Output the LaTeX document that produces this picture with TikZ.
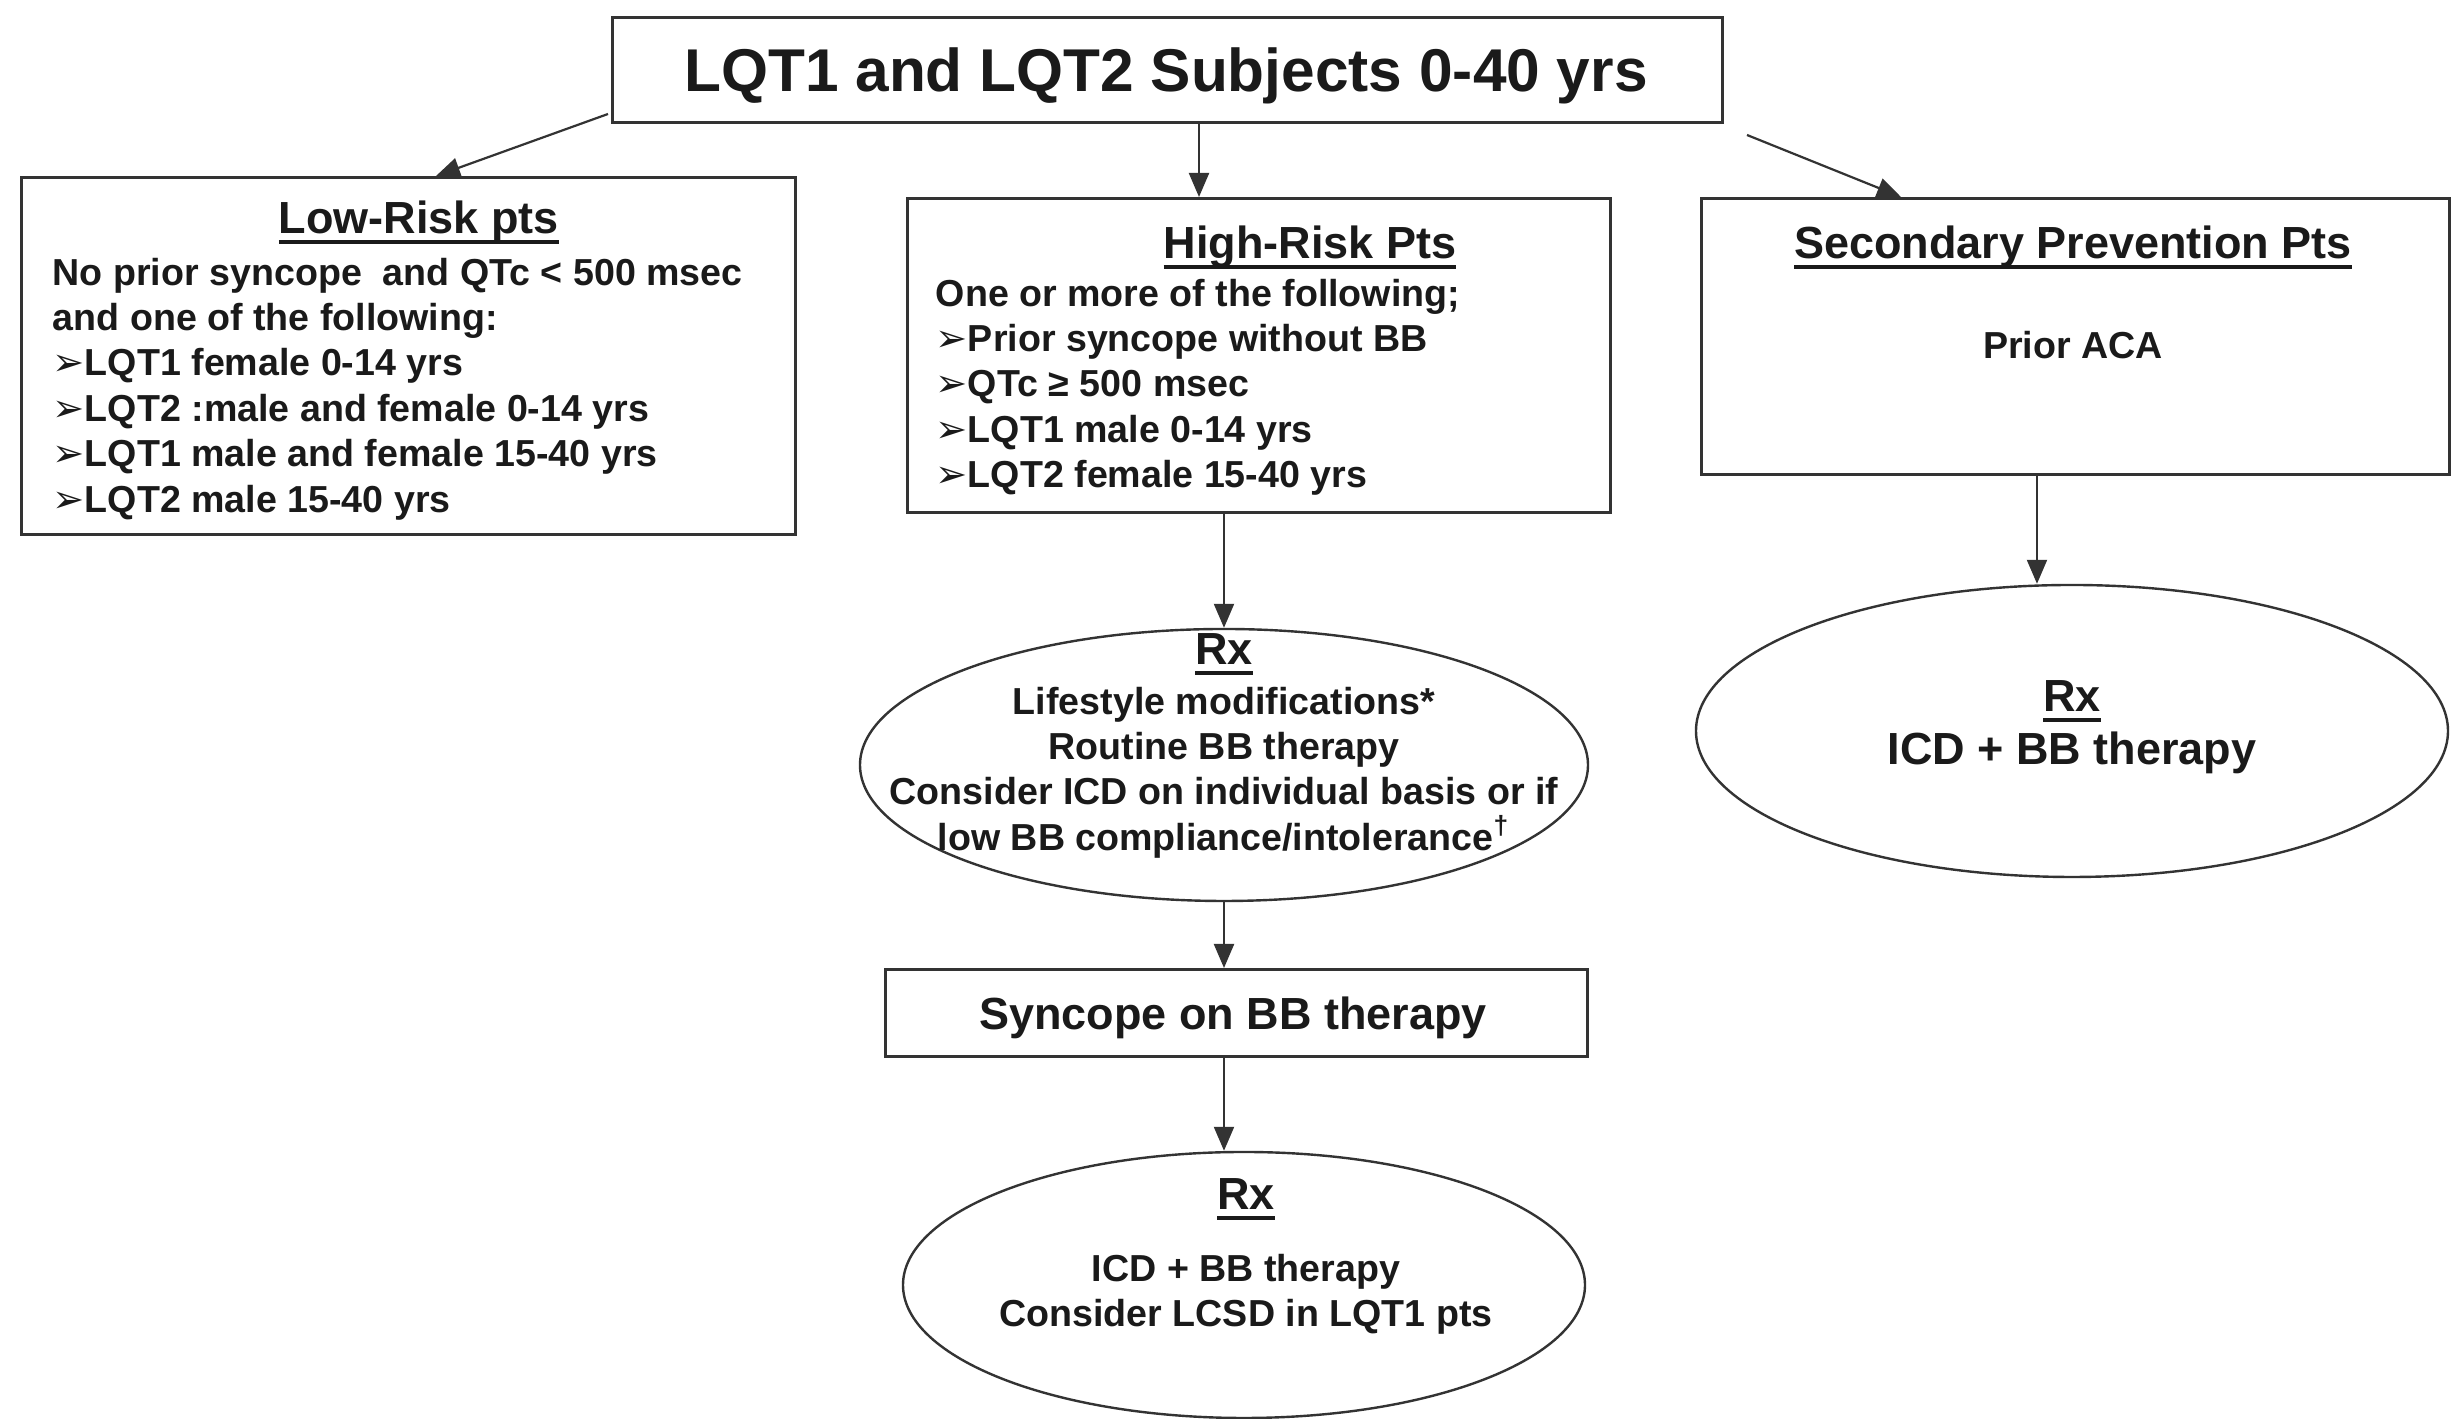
\documentclass[tikz,border=0pt]{standalone}
\usepackage{fontspec}
\setmainfont{Liberation Sans}
\newfontfamily\dvfont{DejaVu Sans}
\usetikzlibrary{shapes.geometric,arrows.meta,calc}
\definecolor{lc}{HTML}{333333}
\definecolor{tc}{HTML}{1A1A1A}
\newcommand\bul{{\dvfont\bfseries\fontsize{9.6}{9}\selectfont ➢}}
\newcommand\hdul[1]{{\setbox0\hbox{#1}\rlap{\rule[-2.4pt]{\wd0}{0.8pt}}\box0}}
\tikzset{
  bx/.style={draw=lc, line width=0.75pt, rectangle, inner sep=0pt, anchor=north west},
  ell/.style={draw=lc, line width=0.6pt, ellipse, inner sep=0pt},
  arr/.style={draw=lc, line width=0.55pt, -{Triangle[length=6pt,width=5pt]}},
  sm/.style={text=tc, font=\bfseries\fontsize{9.4}{11.35}\selectfont, inner sep=0pt},
  lg/.style={text=tc, font=\bfseries\fontsize{11.25}{13.5}\selectfont, inner sep=0pt},
  ttl/.style={text=tc, font=\bfseries\fontsize{15.1}{18}\selectfont, inner sep=0pt},
}
\begin{document}
\begin{tikzpicture}[x=0.25pt,y=-0.25pt]
\useasboundingbox[fill=white] (0,0) rectangle (2457,1419);

% boxes
\node[bx, minimum width=277.5pt, minimum height=26.25pt] (title) at (611,16) {};
\node[bx, minimum width=193.5pt, minimum height=89.25pt] (low) at (20,176) {};
\node[bx, minimum width=175.75pt, minimum height=78.5pt] (high) at (906,197) {};
\node[bx, minimum width=187pt, minimum height=69pt] (sec) at (1700,197) {};
\node[bx, minimum width=175.5pt, minimum height=21.75pt] (sync) at (884,968) {};
\node[ell, minimum width=182pt, minimum height=68pt] (rx1) at (1224,765) {};
\node[ell, minimum width=170.5pt, minimum height=66.5pt] (rx2) at (1244,1285) {};
\node[ell, minimum width=188pt, minimum height=73pt] (rx3) at (2072,731) {};

% texts
\node[ttl, anchor=base] (titletxt) at (1166,92) {LQT1 and LQT2 Subjects 0-40 yrs};

\node[lg, anchor=base] (lowhd) at (419,234) {\hdul{Low-Risk pts}};
\node[sm, anchor=north west, align=left] (lowtxt) at (52,257) {No prior syncope\ \ and QTc < 500 msec\\and one of the following:\\\bul LQT1 female 0-14 yrs\\\bul LQT2 :male and female 0-14 yrs\\\bul LQT1 male and female 15-40 yrs\\\bul LQT2 male 15-40 yrs};

\node[lg, anchor=base] (highhd) at (1310,259) {\hdul{High-Risk Pts}};
\node[sm, anchor=north west, align=left] (hightxt) at (935,278) {One or more of the following;\\\bul Prior syncope without BB\\\bul QTc ≥ 500 msec\\\bul LQT1 male 0-14 yrs\\\bul LQT2 female 15-40 yrs};

\node[lg, anchor=base] (sechd) at (2073,259) {\hdul{Secondary Prevention Pts}};
\node[sm, anchor=base] (sectxt) at (2073,359) {Prior ACA};

\node[lg, anchor=base] (rx1hd) at (1224,665) {\hdul{Rx}};
\node[sm, anchor=north, align=center] (rx1txt) at (1224,686) {Lifestyle modifications*\\Routine BB therapy\\Consider ICD on individual basis or if\\low BB compliance/intolerance\textsuperscript{†}};

\node[lg, anchor=base] (synctxt) at (1233,1030) {Syncope on BB therapy};

\node[lg, anchor=base] (rx2hd) at (1246,1210) {\hdul{Rx}};
\node[sm, anchor=north, align=center] (rx2txt) at (1246,1253) {ICD + BB therapy\\Consider LCSD in LQT1 pts};

\node[lg, anchor=base] (rx3hd) at (2072,712) {\hdul{Rx}};
\node[lg, anchor=base] (rx3txt) at (2072,765) {ICD + BB therapy};

% connectors
\coordinate (a1s) at ($(title.south west)+(-3,-10)$);
\coordinate (a1e) at ($(low.north west)+(416,0)$);
\draw[arr] (a1s) -- (a1e);
\coordinate (a2s) at ($(title.south west)+(588,0)$);
\draw[arr] (a2s) -- (a2s |- high.north);
\coordinate (a3s) at ($(title.south east)+(23,11)$);
\coordinate (a3e) at ($(sec.north west)+(201,0)$);
\draw[arr] (a3s) -- (a3e);
\draw[arr] (high.south -| rx1.north) -- (rx1.north);
\draw[arr] (rx1.south) -- (rx1.south |- sync.north);
\coordinate (a6s) at (rx1.south |- sync.south);
\draw[arr] (a6s) -- (a6s |- rx2.north);
\coordinate (a7s) at ($(sec.south west)+(337,0)$);
\draw[arr] (a7s) -- (a7s |- rx3.north);
\end{tikzpicture}
\end{document}
